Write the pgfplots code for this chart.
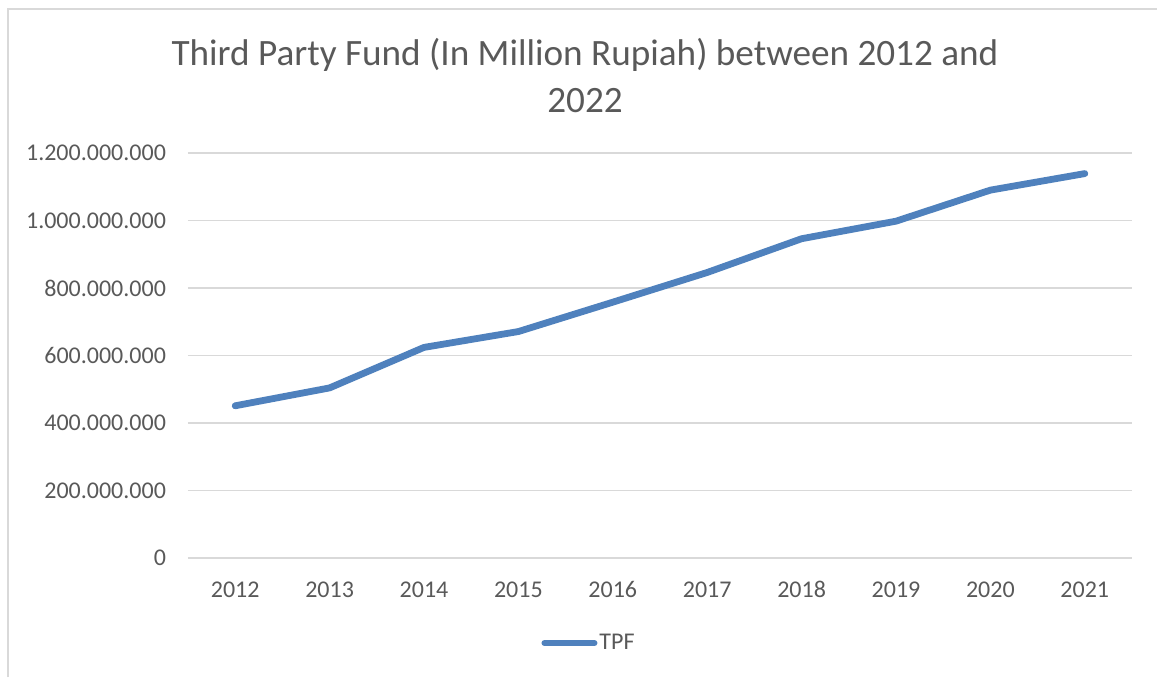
\documentclass[border=0pt]{standalone}
\usepackage{fontspec}
\setmainfont{Carlito}
\usepackage{pgfplots}
\pgfplotsset{compat=1.18}
\definecolor{tpfblue}{HTML}{4F81BD}
\definecolor{gridgray}{HTML}{D9D9D9}
\definecolor{txtgray}{HTML}{595959}
\begin{document}
\begin{tikzpicture}[x=0.5pt,y=0.5pt]
\path[use as bounding box] (0,0) rectangle (1157,677);
\draw[gridgray,line width=0.6pt] (8,0) -- (8,668) -- (1157,668);
\node[anchor=base,text=txtgray,font=\fontsize{18.6}{22}\selectfont] at (585,612) {Third Party Fund (In Million Rupiah) between 2012 and};
\node[anchor=base,text=txtgray,font=\fontsize{18.6}{22}\selectfont] at (585,565) {2022};
\begin{axis}[
  at={(94pt,59.5pt)}, anchor=south west,
  scale only axis, width=472pt, height=202.5pt,
  xmin=-0.5, xmax=9.5, ymin=0, ymax=1.2e9,
  scaled y ticks=false,
  xtick={0,...,9},
  xticklabels={2012,2013,2014,2015,2016,2017,2018,2019,2020,2021},
  ytick={0,2e8,4e8,6e8,8e8,1e9,1.2e9},
  yticklabels={0,200.000.000,400.000.000,600.000.000,800.000.000,1.000.000.000,1.200.000.000},
  axis line style={draw=none},
  ymajorgrids, grid style={gridgray,line width=0.75pt},
  major tick length=0pt,
  tick label style={text=txtgray,font=\fontsize{12}{14}\selectfont},
  yticklabel style={xshift=-7.5pt},
  xticklabel style={anchor=base,yshift=-19.5pt},
  legend style={at={(0.4248,-0.21)},anchor=center,draw=none,fill=none,
    font=\fontsize{12}{14}\selectfont,text=txtgray,
    inner sep=0pt,
    nodes={inner sep=1pt}},
  legend image code/.code={\draw[#1,line width=3pt,line cap=round] (0pt,0pt) -- (25pt,0pt);},
  clip=false,
]
\addplot[tpfblue,line width=3.4pt,line cap=round,line join=round] coordinates {
  (0,451e6) (1,504e6) (2,624e6) (3,671e6) (4,758e6)
  (5,846e6) (6,946e6) (7,998e6) (8,1090e6) (9,1139e6)
};
\addlegendentry{TPF}
\end{axis}
\end{tikzpicture}
\end{document}
